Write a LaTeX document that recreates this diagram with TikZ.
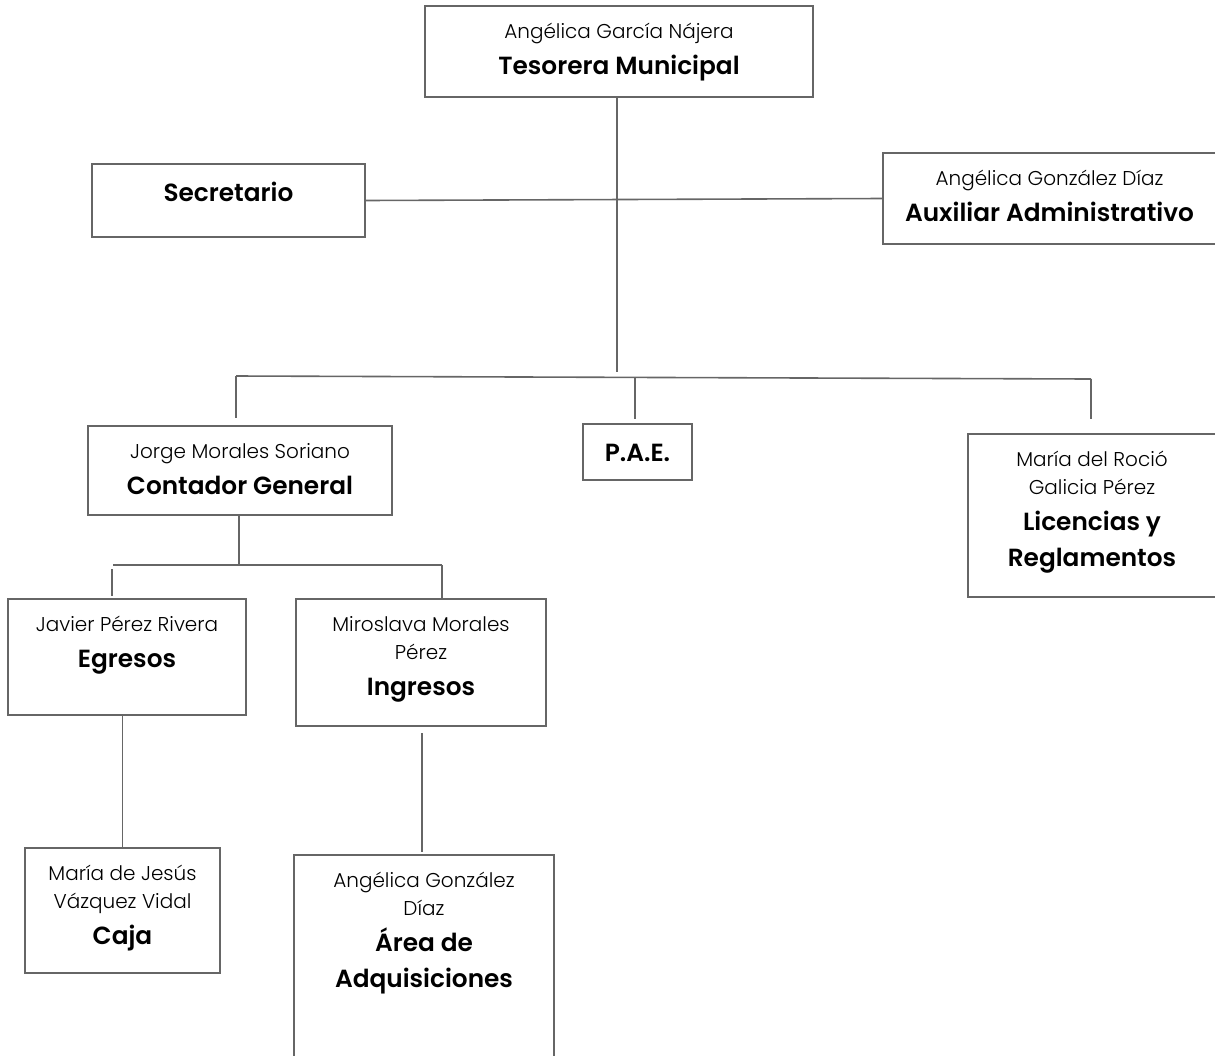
\documentclass[tikz,border=0pt]{standalone}
\usepackage{fontspec}
\setmainfont{Poppins}
\newfontfamily\namefont{Poppins Light}
\newfontfamily\postfont{Poppins SemiBold}

% one line of a person's name, one line of a post
\newcommand{\pname}[1]{{\namefont\fontsize{10}{14}\selectfont #1\par}}
\newcommand{\ptitle}[1]{{\postfont\fontsize{12.4}{18}\selectfont #1\par}}
% width, height, first baseline (all in px), text
\newcommand{\orgtext}[4]{\parbox[c][\dimexpr #2pt/2\relax][t]{\dimexpr #1pt/2\relax}{\centering\rule{0pt}{\dimexpr #3pt/2\relax}#4}}

\begin{document}
\begin{tikzpicture}[x=0.5pt,y=-0.5pt,
  orgbox/.style={draw=black!60,line width=0.8pt,inner sep=0pt},
  link/.style={draw=black!60,line width=0.8pt}]
\useasboundingbox (0,0) rectangle (1215,1055);
\clip (0,0) rectangle (1215,1055);

% boxes
\node[orgbox] (tes) at (619,51.5) {\orgtext{388}{91}{32}{\pname{Angélica García Nájera}\ptitle{Tesorera Municipal}}};
\node[orgbox] (sec) at (228.5,200.5) {\orgtext{273}{73}{37}{\ptitle{Secretario}}};
\node[orgbox] (aux) at (1049.5,198.5) {\orgtext{333}{91}{32}{\pname{Angélica González Díaz}\ptitle{Auxiliar Administrativo}}};
\node[orgbox] (con) at (240,470.5) {\orgtext{304}{89}{32}{\pname{Jorge Morales Soriano}\ptitle{Contador General}}};
\node[orgbox] (pae) at (637.5,452) {\orgtext{109}{56}{37}{\ptitle{P.A.E.}}};
\node[orgbox] (lic) at (1092,515.5) {\orgtext{248}{163}{32}{\pname{María del Roció}\pname{Galicia Pérez}\ptitle{Licencias y}\ptitle{Reglamentos}}};
\node[orgbox] (egr) at (127,657) {\orgtext{238}{116}{32}{\pname{Javier Pérez Rivera}\ptitle{Egresos}}};
\node[orgbox] (ing) at (421,662.5) {\orgtext{250}{127}{32}{\pname{Miroslava Morales}\pname{Pérez}\ptitle{Ingresos}}};
\node[orgbox] (caja) at (122.5,910.5) {\orgtext{195}{125}{32}{\pname{María de Jesús}\pname{Vázquez Vidal}\ptitle{Caja}}};
\node[orgbox] (adq) at (424,975) {\orgtext{260}{240}{32}{\pname{Angélica González}\pname{Díaz}\ptitle{Área de}\ptitle{Adquisiciones}}};

% free ends of the connectors
\coordinate (trunk) at (617,372);
\coordinate (busL) at (236,376);
\coordinate (busR) at (1091,379);
\coordinate (conIn) at (236,418);
\coordinate (paeUp) at (635,377.5);
\coordinate (paeIn) at (635,419);
\coordinate (licIn) at (1091,419);
\coordinate (sub) at (239,565);
\coordinate (subL) at (113,565);
\coordinate (subR) at (442,565);
\coordinate (egrUp) at (112,569);
\coordinate (egrIn) at (112,596);
\coordinate (adqUp) at (422,733);
\coordinate (adqIn) at (422,852);

% connectors
\draw[link] (tes.south -| trunk) -- (trunk);
\draw[link] (sec.east) -- (aux.west);
\draw[link] (busL) -- (busR);
\draw[link] (busL) -- (conIn);
\draw[link] (paeUp) -- (paeIn);
\draw[link] (busR) -- (licIn);
\draw[link] (con.south -| sub) -- (sub);
\draw[link] (subL) -- (subR);
\draw[link] (egrUp) -- (egrIn);
\draw[link] (subR) -- (ing.north -| subR);
\draw[link] (egr.south -| caja.north) -- (caja.north);
\draw[link] (adqUp) -- (adqIn);
\end{tikzpicture}
\end{document}
